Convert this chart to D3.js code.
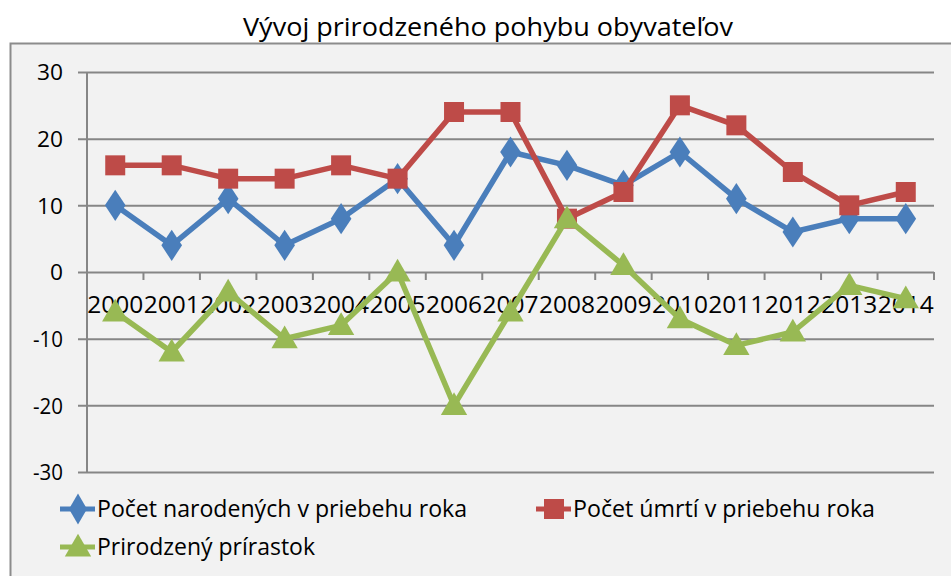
<!DOCTYPE html>
<html>
<head>
<meta charset="utf-8">
<script src="https://cdn.jsdelivr.net/npm/d3@7"></script>
<style>
body { margin: 0; background: #fff; }
text { font-family: "Open Sans", "Liberation Sans", sans-serif; fill: #000; }
</style>
</head>
<body>
<script>
var years = ["2000","2001","2002","2003","2004","2005","2006","2007","2008","2009","2010","2011","2012","2013","2014"];
var born = [10, 4, 11, 4, 8, 14, 4, 18, 16, 13, 18, 11, 6, 8, 8];
var deaths = [16, 16, 14, 14, 16, 14, 24, 24, 8, 12, 25, 22, 15, 10, 12];
var growth = [-6, -12, -3, -10, -8, 0, -20, -6, 8, 1, -7, -11, -9, -2, -4];
var seriesNames = ["Počet narodených v priebehu roka", "Počet úmrtí v priebehu roka", "Prirodzený prírastok"];
var yTicks = [-30, -20, -10, 0, 10, 20, 30];

var width = 951,
	height = 576;

var svg = d3.select("body").append("svg")
    .attr("width", width)
    .attr("height", height);

// chart box
svg.append("rect")
    .attr("x", 10.5).attr("y", 43.5)
    .attr("width", 960).attr("height", 560)
    .attr("fill", "#f2f2f2")
    .attr("stroke", "#8c8c8c")
    .attr("stroke-width", 2);

svg.append("text")
    .attr("x", 488).attr("y", 36)
    .attr("text-anchor", "middle")
    .attr("font-size", 25)
    .attr("textLength", 490)
    .attr("lengthAdjust", "spacingAndGlyphs")
    .text("Vývoj prirodzeného pohybu obyvateľov");

var x = d3.scaleBand().domain(years).range([87, 934]);
var y = d3.scaleLinear().domain([-30, 30]).range([472, 72]);

// gridlines + y axis
var yAxis = svg.append("g")
    .attr("transform", "translate(87,0)")
    .call(d3.axisLeft(y).tickValues(yTicks).tickFormat(String).tickSize(-847).tickSizeOuter(0).tickPadding(24));
yAxis.select(".domain").remove();
yAxis.selectAll(".tick line").attr("stroke", "#868686").attr("stroke-width", 2).attr("x1", -9);
yAxis.selectAll(".tick text")
    .attr("font-size", 22)
    .attr("font-family", "\"Open Sans\", sans-serif")
    .attr("textLength", function(d) { return d < 0 ? 30 : (d == 0 ? 13 : 26); })
    .attr("lengthAdjust", "spacingAndGlyphs")
    .attr("dy", "0.35em");

svg.append("line")
    .attr("x1", 87).attr("x2", 87)
    .attr("y1", 72).attr("y2", 472)
    .attr("stroke", "#868686").attr("stroke-width", 2);

// x axis on zero line
var xAxis = svg.append("g")
    .attr("transform", "translate(0," + y(0) + ")")
    .call(d3.axisBottom(x).tickSize(0).tickPadding(25));
xAxis.select(".domain").remove();
xAxis.selectAll(".tick text")
    .attr("font-size", 23)
    .attr("font-family", "\"Open Sans\", sans-serif")
    .attr("textLength", 56)
    .attr("lengthAdjust", "spacingAndGlyphs");

var bounds = years.map(function(d) { return x(d); }).concat([x.range()[1]]).slice(1);
svg.selectAll(".xtick")
    .data(bounds)
    .enter().append("line")
    .attr("x1", function(d) { return d; }).attr("x2", function(d) { return d; })
    .attr("y1", y(0)).attr("y2", y(0) + 8)
    .attr("stroke", "#868686").attr("stroke-width", 2);

var colors = ["#4a7ebb", "#be4b48", "#98b954"];
var shapes = [d3.symbolDiamond, d3.symbolSquare, d3.symbolTriangle];
var sizes = [280, 400, 300];
var data = [born, deaths, growth];

var line = d3.line()
    .x(function(d, i) { return x(years[i]) + x.bandwidth() / 2; })
    .y(function(d) { return y(d); });

data.forEach(function(vals, s) {
	svg.append("path")
	    .attr("d", line(vals))
	    .attr("fill", "none")
	    .attr("stroke", colors[s])
	    .attr("stroke-width", 5.5)
	    .attr("stroke-linejoin", "round");
	svg.selectAll(".m" + s)
	    .data(vals)
	    .enter().append("path")
	    .attr("transform", function(d, i) {
	    	var dy = s == 2 ? 2 : 0;
	    	return "translate(" + (x(years[i]) + x.bandwidth() / 2) + "," + (y(d) + dy) + ")" + (s == 0 ? " scale(1.15,1)" : "");
	    })
	    .attr("d", d3.symbol().type(shapes[s]).size(sizes[s]))
	    .attr("fill", colors[s]);
});

// legend
var legendPos = [[60, 509, 97, 370], [536, 509, 573, 302], [60, 547, 97, 218]];
legendPos.forEach(function(p, s) {
	var g = svg.append("g");
	g.append("line")
	    .attr("x1", p[0]).attr("x2", p[0] + 35)
	    .attr("y1", p[1]).attr("y2", p[1])
	    .attr("stroke", colors[s]).attr("stroke-width", 5);
	g.append("path")
	    .attr("transform", "translate(" + (p[0] + 18) + "," + (p[1] + (s == 2 ? 2 : 0)) + ")")
	    .attr("d", d3.symbol().type(shapes[s]).size(sizes[s]))
	    .attr("fill", colors[s]);
	g.append("text")
	    .attr("x", p[2]).attr("y", p[1] + 8)
	    .attr("font-size", 23)
	    .attr("textLength", p[3])
	    .attr("lengthAdjust", "spacingAndGlyphs")
	    .text(seriesNames[s]);
});
</script>
</body>
</html>
